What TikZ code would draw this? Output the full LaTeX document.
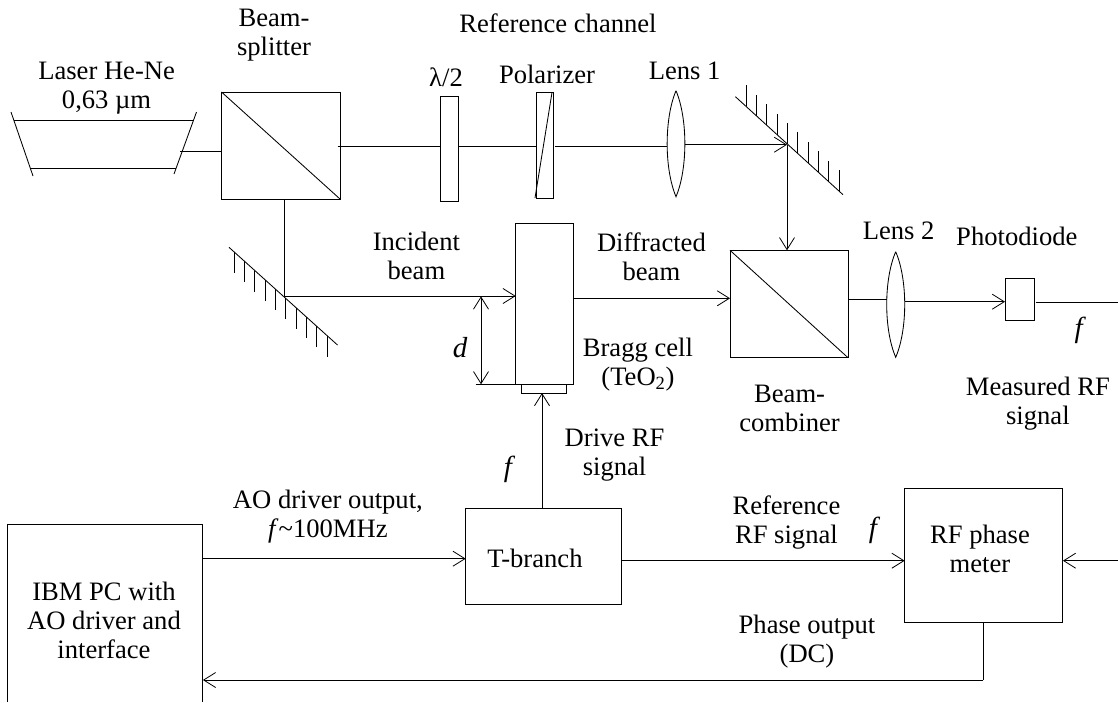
\documentclass[tikz,border=0pt]{standalone}
\usepackage{fontspec}
\setmainfont{Liberation Serif}
\usetikzlibrary{arrows.meta}
\tikzset{
  line/.style={draw=black,line width=0.85pt},
  barb/.style={-{Straight Barb[length=12pt,width=15pt,line width=0.8pt]}},
  twobarb/.style={{Straight Barb[length=12pt,width=15pt,line width=0.8pt]}-{Straight Barb[length=12pt,width=15pt,line width=0.8pt]}},
  lab/.style={font=\fontsize{26.6}{29}\selectfont,align=center,inner sep=0pt,text=black},
  sym/.style={font=\fontsize{29}{31}\selectfont\itshape,inner sep=0pt,text=black},
  ghost/.style={inner sep=0pt,outer sep=0pt},
}
% box by corners: name, x1, y1, x2, y2
\newcommand{\bx}[5]{%
  \pgfmathsetmacro{\bw}{#4-#2}\pgfmathsetmacro{\bh}{#5-#3}%
  \pgfmathsetmacro{\bcx}{(#2+#4)/2}\pgfmathsetmacro{\bcy}{(#3+#5)/2}%
  \node[line,ghost,minimum width=\bw pt,minimum height=\bh pt] (#1) at (\bcx,\bcy) {};}
% lens: name, cx, top, bottom, half width
\newcommand{\lens}[5]{%
  \pgfmathsetmacro{\bw}{2*#5}\pgfmathsetmacro{\bh}{#4-#3}\pgfmathsetmacro{\bcy}{(#3+#4)/2}%
  \node[ghost,minimum width=\bw pt,minimum height=\bh pt] (#1) at (#2,\bcy) {};
  \draw[line] (#1.north) .. controls ([xshift=-3pt,yshift=-28pt]#1.north west) and ([xshift=-3pt,yshift=28pt]#1.south west) .. (#1.south)
     .. controls ([xshift=3pt,yshift=28pt]#1.south east) and ([xshift=3pt,yshift=-28pt]#1.north east) .. (#1.north);}
% mirror: x1,y1,x2,y2, first hatch x, last hatch x, hatch length (signed in y)
\newcommand{\mirror}[7]{%
  \draw[line] (#1,#2) -- (#3,#4);
  \foreach \i in {0,...,9}{
    \pgfmathsetmacro{\hx}{#5+(#6-#5)*\i/9}
    \pgfmathsetmacro{\hy}{#2+(#4-#2)*(\hx-#1)/(#3-#1)}
    \draw[line] (\hx,\hy) -- (\hx,\hy+#7);
  }}
\begin{document}
\begin{tikzpicture}[x=1pt,y=-1pt]
\useasboundingbox (0,0) rectangle (1118,702);
% laser
\draw[line] (11,112) -- (33,176);
\draw[line] (196.5,112) -- (174,174);
\draw[line] (14,120) -- (193,120);
\draw[line] (30,168) -- (176,168);
\coordinate (laserout) at (180,151);
% boxes
\bx{bs}{221.5}{92}{340}{199}
\draw[line] (bs.north west) -- (bs.south east);
\bx{hw}{440}{96}{458}{201}
\bx{pol}{536}{92.5}{553}{198}
\draw[line] (535,198) -- (552,92.5);
\bx{bragg}{515.7}{223.7}{573.3}{384.3}
\bx{trans}{521.3}{384.3}{566.3}{393}
\bx{bc}{730}{250.3}{848}{357.7}
\draw[line] (bc.north west) -- (bc.south east);
\bx{pd}{1005}{278.3}{1034.3}{320.7}
\bx{tb}{465.7}{508.3}{621.8}{604}
\bx{meter}{904.6}{488.3}{1062.9}{622}
% lenses
\lens{lone}{676}{90.7}{196.7}{8.8}
\lens{ltwo}{895.7}{251.7}{357.3}{9}
% mirrors
\mirror{735.4}{96.7}{843}{194.7}{746}{839}{-21}
\mirror{229}{247.3}{337.5}{345}{234.3}{327}{21}
\coordinate (mone) at (787,144.7);
\coordinate (mtwo) at (284.3,296);
% PC (open at the bottom)
\coordinate (pctl) at (7.9,524);
\coordinate (pctr) at (202.9,524);
\draw[line] (7.9,702) -- (pctl) -- (pctr) -- (202.9,702);
% connectors
\draw[line] (laserout) -- (laserout -| bs.west);
\coordinate (bsout) at (337.5,146);
\draw[line] (bsout) -- (bsout -| hw.west);
\draw[line] (hw.east |- bsout) -- (bsout -| pol.west);
\coordinate (polout) at (555,146);
\draw[line] (polout) -- (polout -| lone.west);
\draw[line,barb] (lone.east |- mone) -- (mone);
\draw[line,barb] (mone) -- (mone |- bc.north);
\draw[line] (bs.south -| mtwo) -- (mtwo);
\draw[line,barb] (mtwo) -- (mtwo -| bragg.west);
\coordinate (dtop) at (481,296.4);
\coordinate (dbot) at (481,384.3);
\draw[line,twobarb] (dtop) -- (dbot);
\coordinate (dleft) at (475.7,384.3);
\draw[line] (dleft) -- (bragg.south west);
\coordinate (diff) at (573.3,298.3);
\draw[line,barb] (diff) -- (diff -| bc.west);
\coordinate (bcout) at (848,299.7);
\draw[line] (bcout) -- (bcout -| ltwo.west);
\coordinate (ltout) at (905,301.7);
\draw[line,barb] (ltout) -- (ltout -| pd.west);
\coordinate (pdout) at (1035.7,302.3);
\coordinate (pdend) at (1118,302.3);
\draw[line] (pdout) -- (pdend);
\coordinate (drv) at (542,508.3);
\draw[line,barb] (drv) -- (drv |- trans.south);
\coordinate (aoout) at (202.9,558.7);
\draw[line,barb] (aoout) -- (aoout -| tb.west);
\coordinate (refout) at (621.8,560.7);
\draw[line,barb] (refout) -- (refout -| meter.west);
\coordinate (measin) at (1118,560.7);
\draw[line,barb] (measin) -- (measin -| meter.east);
\coordinate (phdown) at (983.2,680);
\coordinate (pcin) at (202.9,680);
\draw[line] (phdown |- meter.south) -- (phdown);
\draw[line,barb] (phdown) -- (pcin);
% labels
\node[lab] (tBS) at (274,35) {Beam-\\splitter};
\node[lab] (tRC) at (558,23) {Reference channel};
\node[lab] (tLA) at (106.6,88.5) {Laser He-Ne\\0,63 µm};
\node[lab] (tHW) at (446,77) {λ/2};
\node[lab] (tPO) at (547,74) {Polarizer};
\node[lab] (tL1) at (684.6,71) {Lens 1};
\node[lab] (tIB) at (416.4,256) {Incident\\beam};
\node[sym] (tD) at (460,348) {d};
\node[lab] (tDB) at (651.4,257) {Diffracted\\beam};
\node[lab] (tL2) at (898.6,231) {Lens 2};
\node[lab] (tPD) at (1016.8,236) {Photodiode};
\node[sym] (tF1) at (1078.6,330) {f};
\node[lab] (tBC) at (637.9,365) {Bragg cell\\(TeO\textsubscript{2})};
\node[lab] (tCO) at (789.6,408.8) {Beam-\\combiner};
\node[lab] (tMR) at (1037.9,403.5) {Measured RF\\signal};
\node[lab] (tDR) at (614.6,455) {Drive RF\\signal};
\node[sym] (tF2) at (507.9,469) {f};
\node[lab] (tAO) at (327.9,517) {AO driver output,\\\textit{f}\textasciitilde100MHz};
\node[lab] (tTB) at (535,558) {T-branch};
\node[lab] (tPC) at (104,620) {IBM PC with\\AO driver and\\interface};
\node[lab] (tRR) at (786.4,522.5) {Reference\\RF signal};
\node[sym] (tF3) at (873,530) {f};
\node[lab] (tRP) at (980,548.5) {RF phase\\meter};
\node[lab] (tPH) at (807,642) {Phase output\\(DC)};
\end{tikzpicture}
\end{document}
